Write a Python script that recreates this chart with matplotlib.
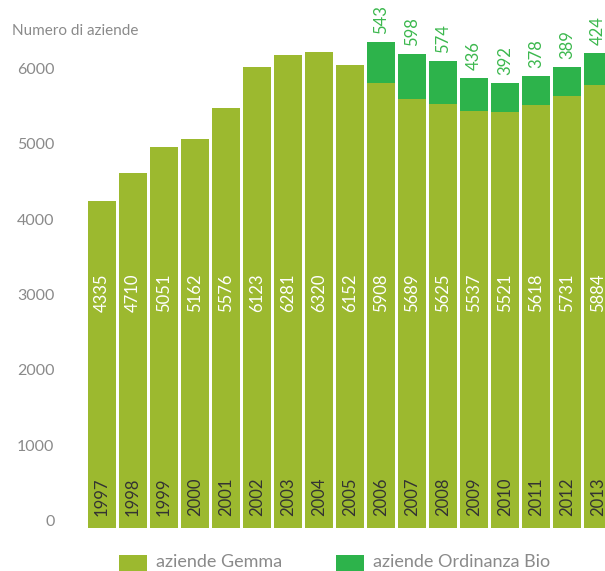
import matplotlib
matplotlib.use('agg')
import matplotlib.pyplot as plt
from matplotlib.patches import Rectangle
from matplotlib.transforms import offset_copy

plt.rcParams['font.family'] = ['Lato', 'DejaVu Sans']

anni = ['1997', '1998', '1999', '2000', '2001', '2002', '2003', '2004', '2005',
        '2006', '2007', '2008', '2009', '2010', '2011', '2012', '2013']
gemma = [4335, 4710, 5051, 5162, 5576, 6123, 6281, 6320, 6152,
         5908, 5689, 5625, 5537, 5521, 5618, 5731, 5884]
bio = [0, 0, 0, 0, 0, 0, 0, 0, 0,
       543, 598, 574, 436, 392, 378, 389, 424]
yticks = [0, 1000, 2000, 3000, 4000, 5000, 6000]

col_gemma = '#9cb92f'
col_bio = '#2db34b'
col_txt = '#8a8a8a'

W, H = 605, 571
fig = plt.figure(figsize=(W / 100, H / 100), dpi=100)
# assi in pixel: sinistra 86, destra 605, fondo 528 (dall'alto), alto 23
ax = fig.add_axes([86 / W, (H - 528) / H, (605 - 86) / W, (528 - 23) / H])

# scala: 0 -> y=528, 6000 -> y=76
ymax = (528 - 23) / (452 / 6000)
ax.set_ylim(0, ymax)
ax.set_xlim(-0.5 - 0.5 / 31, (605 - 102) / 31)

x = list(range(len(anni)))
ax.bar(x, gemma, width=0.9, color=col_gemma, linewidth=0)
tops = [g + b for g, b in zip(gemma, bio)]
ax.bar(x, bio, bottom=gemma, width=0.9, color=col_bio, linewidth=0)

for i in x:
    ax.text(i, 3120, str(gemma[i]), rotation=90, ha='center', va='center',
            color='white', fontsize=12)
    ax.text(i, 410, anni[i], rotation=90, ha='center', va='center',
            color='#333333', fontsize=12)
    if bio[i]:
        tr = offset_copy(ax.transData, fig=fig, x=0, y=8, units='dots')
        ax.text(i, tops[i], str(bio[i]), rotation=90, ha='center', va='bottom',
                color='#3cb84e', fontsize=12, transform=tr, clip_on=False)

for s in ax.spines.values():
    s.set_visible(False)
ax.set_xticks([])
ax.set_yticks([])

# etichette asse y
for v in yticks:
    tr = offset_copy(ax.transData, fig=fig, x=0, y=6, units='dots')
    ax.text(-0.5 - 32 / 31, v, str(v), ha='right', va='center', color=col_txt,
            fontsize=11.5, transform=tr, clip_on=False)

fig.text(12 / W, 1 - 31 / H, 'Numero di aziende', ha='left', va='center',
         color=col_txt, fontsize=11)

# legenda
for px, lab, c in [(119, 'aziende Gemma', col_gemma),
                   (336, 'aziende Ordinanza Bio', col_bio)]:
    fig.patches.append(Rectangle((px / W, 0), 28 / W, (H - 555) / H,
                                 transform=fig.transFigure, color=c, lw=0))
    fig.text((px + 37) / W, 1 - 562 / H, lab, ha='left', va='center',
             color=col_txt, fontsize=13)

fig.savefig('out.png', dpi=100)
